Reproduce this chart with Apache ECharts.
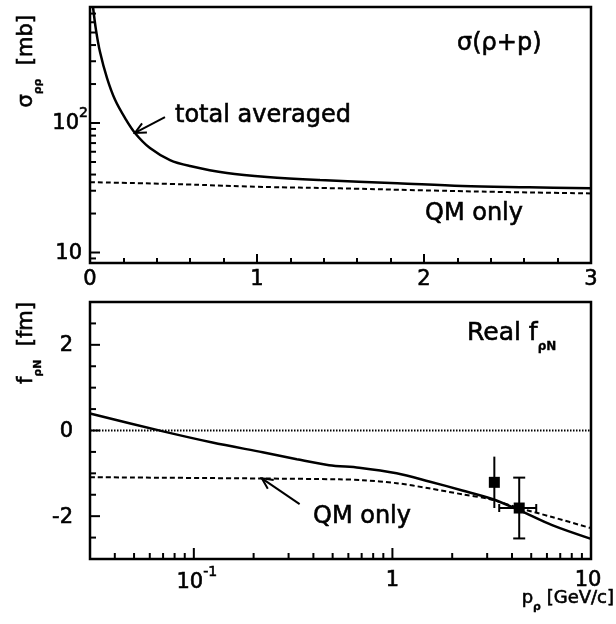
<!DOCTYPE html>
<html><head><meta charset="utf-8">
<script src="https://cdn.jsdelivr.net/npm/echarts@6/dist/echarts.min.js"></script>
<style>html,body{margin:0;padding:0;background:#fff}#c{width:616px;height:624px}</style>
</head><body><div id="c"></div>
<script>
// ---------- top panel: sigma(rho+p) [mb] vs p [GeV/c] ----------
const topTotalX = [0.018, 0.036, 0.060, 0.102, 0.150, 0.210, 0.269, 0.359, 0.479, 0.599, 0.820, 1.06, 1.377, 1.84, 2.23, 2.63, 3.0];
const topTotalY = [787, 522, 353, 222, 151, 109, 83.8, 64.1, 51.8, 46.6, 41.1, 38.3, 36.3, 34.3, 32.6, 31.9, 31.3];
const topQMX = [0, 0.5, 1.0, 1.5, 2.0, 2.5, 3.0];
const topQMY = [34.9, 33.8, 32.2, 31.3, 30.2, 29.3, 28.6];
const topXTicks = [0, 1, 2, 3];
const topYMajor = [10, 100];
const topYLabels = ['10', '10^2'];
const topYMinor = [9, 20, 30, 40, 50, 60, 70, 80, 90, 200, 300, 400, 500, 600, 700];

// ---------- bottom panel: Real f_rhoN [fm] vs p_rho [GeV/c] ----------
const botTotalX = [0.03, 0.07, 0.124, 0.222, 0.33, 0.48, 0.68, 1.05, 1.53, 2.25, 3.18, 4.35, 6.37, 10];
const botTotalY = [0.395, -0.02, -0.28, -0.51, -0.67, -0.81, -0.87, -1.0, -1.19, -1.40, -1.6, -1.86, -2.21, -2.53];
const botQMX = [0.03, 0.215, 0.54, 0.71, 1.05, 1.53, 2.25, 3.07, 4.35, 6.37, 10];
const botQMY = [-1.09, -1.12, -1.14, -1.16, -1.23, -1.35, -1.49, -1.6, -1.81, -2.02, -2.28];
const zeroX = [0.03, 12];
const zeroY = [0, 0];
const expX = [3.26, 4.35];
const expY = [-1.21, -1.81];
const expYErr = [0.6, 0.71];
const expXLow = [3.26, 3.45];
const expXHigh = [3.26, 5.3];
const botXMajor = [0.1, 1, 10];
const botXLabels = ['10^-1', '1', '10'];
const botXMinor = [0.04, 0.05, 0.06, 0.07, 0.08, 0.09, 0.2, 0.3, 0.4, 0.5, 0.6, 0.7, 0.8, 0.9, 2, 3, 4, 5, 6, 7, 8, 9];
const botYMajor = [-2, 0, 2];
const botYLabels = ['-2', '0', '2'];
const botYMinor = [-2.5, -1.5, -1, -0.5, 0.5, 1, 1.5, 2.5];

// annotation arrows in data units: [tailX, tailY, tipX, tipY]
const arrowTop = [0.449, 111, 0.269, 83.8];
const arrowBot = [0.341, -1.72, 0.22, -1.116];

const FONT = 'DejaVu Sans';
const BLK = '#000';
const TW = 0.6; // slight glyph thickening
const zip = (a, b) => a.map((v, i) => [v, b[i]]);
const chart = echarts.init(document.getElementById('c'), null, {renderer: 'canvas'});

const hiddenAxis = {axisLine: {show: false}, axisTick: {show: false}, axisLabel: {show: false}, splitLine: {show: false}};

chart.setOption({
  animation: false,
  backgroundColor: '#fff',
  textStyle: {fontFamily: FONT},
  grid: [
    {left: 90, top: 7, width: 501, height: 256, show: true, borderColor: BLK, borderWidth: 2.5, backgroundColor: 'transparent'},
    {left: 90, top: 302, width: 501, height: 257, show: true, borderColor: BLK, borderWidth: 2.5, backgroundColor: 'transparent'}
  ],
  xAxis: [
    {type: 'value', gridIndex: 0, min: 0, max: 3, interval: 1,
     axisLine: {show: false}, splitLine: {show: false},
     axisTick: {show: true, inside: true, length: 9, lineStyle: {color: BLK, width: 2}},
     minorTick: {show: true, splitNumber: 5, length: 5, lineStyle: {color: BLK, width: 2}},
     axisLabel: {show: true, color: BLK, fontSize: 21, fontFamily: FONT, margin: 6, textBorderColor: BLK, textBorderWidth: TW}},
    Object.assign({type: 'log', gridIndex: 1, min: 0.03, max: 10, logBase: 10}, hiddenAxis)
  ],
  yAxis: [
    Object.assign({type: 'log', gridIndex: 0, min: 8.3, max: 787, logBase: 10}, hiddenAxis),
    Object.assign({type: 'value', gridIndex: 1, min: -3, max: 3}, hiddenAxis)
  ],
  series: [
    {name: 'total averaged', type: 'line', xAxisIndex: 0, yAxisIndex: 0, data: zip(topTotalX, topTotalY),
     showSymbol: false, smooth: 0.35, lineStyle: {color: BLK, width: 2.5}, silent: true},
    {name: 'QM only', type: 'line', xAxisIndex: 0, yAxisIndex: 0, data: zip(topQMX, topQMY),
     showSymbol: false, smooth: true, lineStyle: {color: BLK, width: 2, type: [5, 3]}, silent: true},
    {name: 'total bottom', type: 'line', xAxisIndex: 1, yAxisIndex: 1, data: zip(botTotalX, botTotalY),
     showSymbol: false, smooth: 0.3, lineStyle: {color: BLK, width: 2.5}, silent: true},
    {name: 'QM bottom', type: 'line', xAxisIndex: 1, yAxisIndex: 1, data: zip(botQMX, botQMY),
     showSymbol: false, smooth: 0.3, lineStyle: {color: BLK, width: 2, type: [5, 3]}, silent: true},
    {name: 'zero', type: 'line', xAxisIndex: 1, yAxisIndex: 1, data: zip(zeroX, zeroY), clip: false,
     showSymbol: false, lineStyle: {color: BLK, width: 2, type: [1.5, 1.5]}, silent: true},
    {name: 'errors', type: 'custom', xAxisIndex: 1, yAxisIndex: 1, silent: true,
     data: expX.map((x, i) => [x, expY[i], expYErr[i], expXLow[i], expXHigh[i]]),
     encode: {x: 0, y: 1},
     renderItem: function (params, api) {
       const x = api.value(0), y = api.value(1), e = api.value(2), xl = api.value(3), xh = api.value(4);
       const t = api.coord([x, y + e]), b = api.coord([x, y - e]);
       const st = {stroke: BLK, lineWidth: 2};
       const ch = [{type: 'line', shape: {x1: t[0], y1: t[1], x2: b[0], y2: b[1]}, style: st}];
       if (xh > xl) {
         const l = api.coord([xl, y]), r = api.coord([xh, y]);
         ch.push({type: 'line', shape: {x1: l[0], y1: l[1], x2: r[0], y2: r[1]}, style: st});
         ch.push({type: 'line', shape: {x1: l[0], y1: l[1] - 4, x2: l[0], y2: l[1] + 4}, style: st});
         ch.push({type: 'line', shape: {x1: r[0], y1: r[1] - 4, x2: r[0], y2: r[1] + 4}, style: st});
         ch.push({type: 'line', shape: {x1: t[0] - 6, y1: t[1], x2: t[0] + 6, y2: t[1]}, style: st});
         ch.push({type: 'line', shape: {x1: b[0] - 6, y1: b[1], x2: b[0] + 6, y2: b[1]}, style: st});
       }
       return {type: 'group', children: ch};
     }},
    {name: 'data', type: 'scatter', xAxisIndex: 1, yAxisIndex: 1, data: zip(expX, expY),
     symbol: 'rect', symbolSize: 11, itemStyle: {color: BLK, opacity: 1}, silent: true, z: 5}
  ]
});

// ---------- ticks, labels, titles, annotations ----------
const G = [];
const px = (g, x, y) => chart.convertToPixel({gridIndex: g}, [x, y]);
const tickStyle = {stroke: BLK, lineWidth: 2};
function yTick(g, xmin, v, len) {
  const p = px(g, xmin, v);
  G.push({type: 'line', silent: true, shape: {x1: p[0], y1: p[1], x2: p[0] + len, y2: p[1]}, style: tickStyle});
}
function xTick(g, ymin, v, len) {
  const p = px(g, v, ymin);
  G.push({type: 'line', silent: true, shape: {x1: p[0], y1: p[1], x2: p[0], y2: p[1] - len}, style: tickStyle});
}
const tk = (o) => Object.assign({fontFamily: FONT, fill: BLK, stroke: BLK, lineWidth: TW}, o);
const labRich = {
  b: tk({fontSize: 21, padding: [7, 0, 0, 0]}),
  s: tk({fontSize: 14, verticalAlign: 'top'}),
  p: tk({fontSize: 21})
};
function richLabel(lbl) {
  const parts = lbl.split('^');
  return parts.length > 1 ? '{b|' + parts[0] + '}{s|' + parts[1] + '}' : '{p|' + lbl + '}';
}
function text(x, y, str, opt) {
  G.push(Object.assign({type: 'text', silent: true, x: x, y: y,
    style: Object.assign({text: str, fill: BLK, fontFamily: FONT, stroke: BLK, lineWidth: TW}, opt.style)}, opt.el || {}));
}

// top y (log)
topYMajor.forEach(v => yTick(0, 0, v, 10));
topYMinor.forEach(v => yTick(0, 0, v, 6));
topYMajor.forEach((v, i) => {
  const p = px(0, 0, v);
  const sup = topYLabels[i].indexOf('^') >= 0;
  text(sup ? p[0] - 2 : p[0] - 8, sup ? p[1] - 3 : p[1] + 1, richLabel(topYLabels[i]),
       {style: {rich: labRich, align: 'right', verticalAlign: 'middle'}});
});
// bottom x (log)
botXMajor.forEach(v => xTick(1, -3, v, 11));
botXMinor.forEach(v => xTick(1, -3, v, 6));
botXMajor.forEach((v, i) => {
  const p = px(1, v, -3);
  const sup = botXLabels[i].indexOf('^') >= 0;
  text(p[0] + (sup ? 3 : 0) - (i === botXMajor.length - 1 ? 3 : 0), p[1] + (sup ? 6 : 11), richLabel(botXLabels[i]),
       {style: {rich: labRich, align: 'center', verticalAlign: 'top'}});
});
// bottom y (linear)
botYMajor.forEach(v => yTick(1, 0.03, v, 10));
botYMinor.forEach(v => yTick(1, 0.03, v, 6));
botYMajor.forEach((v, i) => {
  const p = px(1, 0.03, v);
  text(p[0] - 17, p[1] + 1, richLabel(botYLabels[i]), {style: {rich: labRich, align: 'right', verticalAlign: 'middle'}});
});

// axis titles
const subRich = {
  m: tk({fontSize: 21, padding: [0, 0, 6, 0]}),
  u: tk({fontSize: 11, fontWeight: 'bold', verticalAlign: 'bottom', lineWidth: 0.3})
};
text(30, 15, '{m|σ}{u|ρρ}{m|  [mb]}', {style: {rich: subRich, align: 'right', verticalAlign: 'middle'}, el: {rotation: Math.PI / 2}});
text(30, 302, '{m|f}{u|ρN}{m|  [fm]}', {style: {rich: subRich, align: 'right', verticalAlign: 'middle'}, el: {rotation: Math.PI / 2}});
const xRich = {
  m: tk({fontSize: 18, padding: [0, 0, 5, 0]}),
  u: tk({fontSize: 11, fontWeight: 'bold', verticalAlign: 'bottom', lineWidth: 0.3})
};
text(614, 601, '{m|p}{u|ρ}{m| [GeV/c]}', {style: {rich: xRich, align: 'right', verticalAlign: 'middle'}});

// annotations
text(175, 116, 'total averaged', {style: {fontSize: 24, align: 'left', verticalAlign: 'middle'}});
text(425, 214, 'QM only', {style: {fontSize: 24, align: 'left', verticalAlign: 'middle'}});
text(457, 44, 'σ(ρ+p)', {style: {fontSize: 24, align: 'left', verticalAlign: 'middle'}});
text(313, 517, 'QM only', {style: {fontSize: 24, align: 'left', verticalAlign: 'middle'}});
const realRich = {
  m: tk({fontSize: 25, padding: [0, 0, 7, 0]}),
  u: tk({fontSize: 12, fontWeight: 'bold', verticalAlign: 'bottom', lineWidth: 0.3})
};
text(467, 337, '{m|Real f}{u|ρN}', {style: {rich: realRich, align: 'left', verticalAlign: 'middle'}});

function arrow(g, a) {
  const t = px(g, a[0], a[1]), h = px(g, a[2], a[3]);
  const dx = h[0] - t[0], dy = h[1] - t[1], L = Math.hypot(dx, dy);
  const ux = dx / L, uy = dy / L, len = 12, ang = 0.45;
  const c = Math.cos(ang), s = Math.sin(ang);
  const l1 = [h[0] - len * (ux * c - uy * s), h[1] - len * (uy * c + ux * s)];
  const l2 = [h[0] - len * (ux * c + uy * s), h[1] - len * (uy * c - ux * s)];
  const st = {stroke: BLK, lineWidth: 2, fill: null};
  G.push({type: 'line', silent: true, shape: {x1: t[0], y1: t[1], x2: h[0], y2: h[1]}, style: st});
  G.push({type: 'polyline', silent: true, shape: {points: [l1, h, l2]}, style: st});
}
arrow(0, arrowTop);
arrow(1, arrowBot);

chart.setOption({graphic: G.map(e => Object.assign({z: 100}, e))});
</script>
</body></html>
